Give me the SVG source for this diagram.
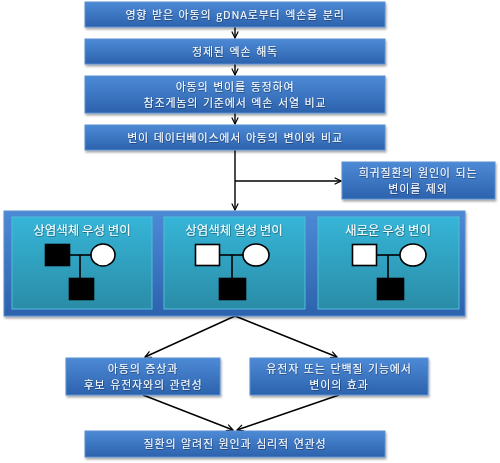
<svg xmlns="http://www.w3.org/2000/svg" width="500" height="463" viewBox="0 0 500 463">
<defs>
<linearGradient id="gBlue" x1="0" y1="0" x2="0" y2="1">
<stop offset="0" stop-color="#4d8ad6"/>
<stop offset="1" stop-color="#2c62ad"/>
</linearGradient>
<linearGradient id="gTeal" x1="0" y1="0" x2="0" y2="1">
<stop offset="0" stop-color="#36b5d8"/>
<stop offset="1" stop-color="#2a8ca6"/>
</linearGradient>
<filter id="sh" x="-5%" y="-10%" width="110%" height="130%">
<feDropShadow dx="1" dy="2" stdDeviation="1.2" flood-color="#000" flood-opacity="0.35"/>
</filter>
<filter id="tsh" x="-5%" y="-20%" width="110%" height="140%">
<feDropShadow dx="0.6" dy="0.8" stdDeviation="0.4" flood-color="#000" flood-opacity="0.45"/>
</filter>
<marker id="arr" viewBox="0 0 10 10" refX="9" refY="5" markerWidth="8" markerHeight="8" markerUnits="userSpaceOnUse" orient="auto">
<path d="M1,1 L9,5 L1,9" fill="none" stroke="#000" stroke-width="1.5"/>
</marker>
</defs>
<style>
.box{fill:url(#gBlue);stroke:#5b8fd0;stroke-width:1;filter:url(#sh);}
.panel{fill:url(#gTeal);stroke:#52bcd9;stroke-width:1;}
.t{font-family:"Noto Sans CJK KR","Noto Sans",sans-serif;font-size:11px;letter-spacing:0.8px;word-spacing:1.5px;fill:#fff;text-anchor:middle;filter:url(#tsh);}
.tt{font-family:"Noto Sans CJK KR","Noto Sans",sans-serif;font-size:12.5px;fill:#fff;text-anchor:middle;filter:url(#tsh);}
.c{stroke:#000;stroke-width:1.4;fill:none;}
.p{stroke:#000;stroke-width:1.6;}
</style>

<g id="connectors">
<line class="c" x1="235" y1="27" x2="235" y2="38" marker-end="url(#arr)"/>
<line class="c" x1="235" y1="64" x2="235" y2="75" marker-end="url(#arr)"/>
<line class="c" x1="235" y1="113" x2="235" y2="124" marker-end="url(#arr)"/>
<line class="c" x1="235" y1="150" x2="235" y2="210" marker-end="url(#arr)"/>
<line class="c" x1="235" y1="181" x2="341" y2="181" marker-end="url(#arr)"/>
<line class="c" x1="235" y1="316" x2="145" y2="357" marker-end="url(#arr)"/>
<line class="c" x1="235" y1="316" x2="337" y2="357" marker-end="url(#arr)"/>
<line class="c" x1="143" y1="395" x2="233" y2="430" marker-end="url(#arr)"/>
<line class="c" x1="339" y1="395" x2="237" y2="430" marker-end="url(#arr)"/>
</g>

<g id="n1"><rect class="box" x="85" y="2" width="300" height="25"/>
<text class="t" x="235" y="19">영향 받은 아동의 gDNA로부터 엑손을 분리</text></g>
<g id="n2"><rect class="box" x="85" y="39" width="300" height="25"/>
<text class="t" x="235" y="56">정제된 엑손 해독</text></g>
<g id="n3"><rect class="box" x="85" y="76" width="300" height="37"/>
<text class="t" x="235" y="91">아동의 변이를 동정하여</text>
<text class="t" x="235" y="107">참조게놈의 기준에서 엑손 서열 비교</text></g>
<g id="n4"><rect class="box" x="85" y="125" width="300" height="25"/>
<text class="t" x="235" y="142">변이 데이터베이스에서 아동의 변이와 비교</text></g>
<g id="n5"><rect class="box" x="342" y="162" width="153" height="37"/>
<text class="t" x="418" y="177">희귀질환의 원인이 되는</text>
<text class="t" x="418" y="193">변이를 제외</text></g>

<g id="container"><rect class="box" x="4" y="211" width="461" height="105"/></g>

<g id="panel1">
<rect class="panel" x="12" y="217" width="140" height="92"/>
<text class="tt" x="82" y="235">상염색체 우성 변이</text>
<line class="p" x1="70" y1="255" x2="91" y2="255"/>
<line class="p" x1="80" y1="255" x2="80" y2="278"/>
<rect class="p" x="45.5" y="244.5" width="24" height="21" fill="#000"/>
<ellipse class="p" cx="103" cy="255" rx="12" ry="11" fill="#fff"/>
<rect class="p" x="69.5" y="278.5" width="24" height="21" fill="#000"/>
</g>
<g id="panel2">
<rect class="panel" x="164" y="217" width="141" height="92"/>
<text class="tt" x="234" y="235">상염색체 열성 변이</text>
<line class="p" x1="220" y1="255" x2="243" y2="255"/>
<line class="p" x1="232" y1="255" x2="232" y2="278"/>
<rect class="p" x="195.5" y="244.5" width="24" height="21" fill="#fff"/>
<ellipse class="p" cx="256" cy="255" rx="13" ry="11" fill="#fff"/>
<rect class="p" x="219.5" y="278.5" width="26" height="21" fill="#000"/>
</g>
<g id="panel3">
<rect class="panel" x="318" y="217" width="141" height="92"/>
<text class="tt" x="388" y="235">새로운 우성 변이</text>
<line class="p" x1="377" y1="255" x2="400" y2="255"/>
<line class="p" x1="388" y1="255" x2="388" y2="278"/>
<rect class="p" x="352.5" y="244.5" width="24" height="21" fill="#fff"/>
<ellipse class="p" cx="413" cy="255" rx="13" ry="11" fill="#fff"/>
<rect class="p" x="377.5" y="278.5" width="26" height="21" fill="#000"/>
</g>

<g id="n6"><rect class="box" x="66" y="358" width="154" height="37"/>
<text class="t" x="143" y="373">아동의 증상과</text>
<text class="t" x="143" y="389">후보 유전자와의 관련성</text></g>
<g id="n7"><rect class="box" x="250" y="358" width="178" height="37"/>
<text class="t" x="339" y="373">유전자 또는 단백질 기능에서</text>
<text class="t" x="339" y="389">변이의 효과</text></g>
<g id="n8"><rect class="box" x="85" y="431" width="300" height="26"/>
<text class="t" x="235" y="448">질환의 알려진 원인과 심리적 연관성</text></g>
</svg>
